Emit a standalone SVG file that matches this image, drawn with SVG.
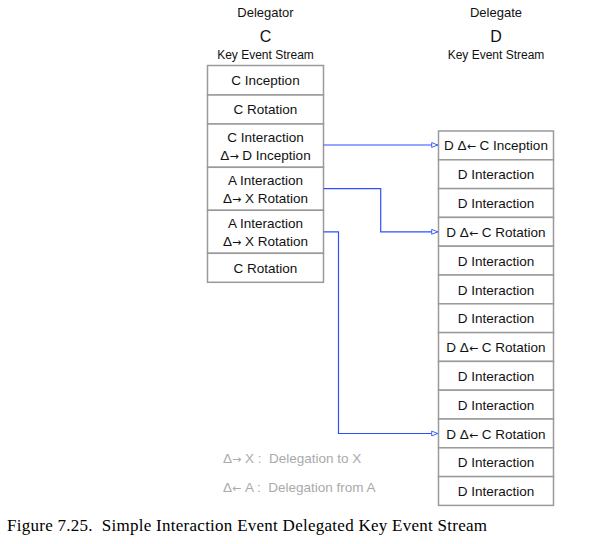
<svg xmlns="http://www.w3.org/2000/svg" width="604" height="544" viewBox="0 0 604 544">
<style>
.cell{fill:#fff;stroke:#9a9a9a;stroke-width:1.5}
.t{font-family:"Liberation Sans",Arial,sans-serif;font-size:13.5px;fill:#111;text-anchor:middle}
.h{font-family:"Liberation Sans",Arial,sans-serif;font-size:13px;fill:#111;text-anchor:middle}
.big{font-family:"Liberation Sans",Arial,sans-serif;font-size:16px;fill:#111;text-anchor:middle}
.ks{font-family:"Liberation Sans",Arial,sans-serif;font-size:12px;fill:#111;text-anchor:middle}
.leg{font-family:"Liberation Sans",Arial,sans-serif;font-size:13.5px;fill:#aaaaaa}
.ar{font-family:"DejaVu Sans",sans-serif;font-size:11px}
.cap{font-family:"Liberation Serif","Times New Roman",serif;font-size:17px;fill:#000}
.con{fill:none;stroke:#2f4fff;stroke-width:1.2}
</style>
<defs>
<marker id="ah" viewBox="0 0 10 10" refX="10" refY="5" markerWidth="8" markerHeight="7" markerUnits="userSpaceOnUse" orient="auto">
<path d="M1,1.5 L9.5,5 L1,8.5 Z" fill="#fff" stroke="#2f4fff" stroke-width="1.3"/>
</marker>
</defs>
<rect width="604" height="544" fill="#fff"/>
<g id="hdr-left">
<text class="h" x="265.5" y="17">Delegator</text>
<text class="big" x="265.5" y="41.5">C</text>
<text class="ks" x="265.5" y="59">Key Event Stream</text>
</g>
<g id="hdr-right">
<text class="h" x="496" y="17">Delegate</text>
<text class="big" x="496" y="41.5">D</text>
<text class="ks" x="496" y="59">Key Event Stream</text>
</g>
<g id="c1"><rect class="cell" x="207.5" y="65.5" width="116" height="29.5"/><text class="t" x="265.5" y="85">C Inception</text></g>
<g id="c2"><rect class="cell" x="207.5" y="95" width="116" height="29"/><text class="t" x="265.5" y="114">C Rotation</text></g>
<g id="c3"><rect class="cell" x="207.5" y="124" width="116" height="43.3"/><text class="t" x="265.5" y="141.5">C Interaction</text><text class="t" x="265.5" y="160">Δ<tspan class="ar">→</tspan> D Inception</text></g>
<g id="c4"><rect class="cell" x="207.5" y="167.3" width="116" height="43"/><text class="t" x="265.5" y="185">A Interaction</text><text class="t" x="265.5" y="202.5">Δ<tspan class="ar">→</tspan> X Rotation</text></g>
<g id="c5"><rect class="cell" x="207.5" y="210.3" width="116" height="43"/><text class="t" x="265.5" y="228">A Interaction</text><text class="t" x="265.5" y="245.5">Δ<tspan class="ar">→</tspan> X Rotation</text></g>
<g id="c6"><rect class="cell" x="207.5" y="253.3" width="116" height="29"/><text class="t" x="265.5" y="273">C Rotation</text></g>
<g id="d1"><rect class="cell" x="438.5" y="131" width="115" height="28.8"/><text class="t" x="496" y="150">D Δ<tspan class="ar">←</tspan> C Inception</text></g>
<g id="d2"><rect class="cell" x="438.5" y="159.8" width="115" height="28.8"/><text class="t" x="496" y="179">D Interaction</text></g>
<g id="d3"><rect class="cell" x="438.5" y="188.6" width="115" height="28.8"/><text class="t" x="496" y="208">D Interaction</text></g>
<g id="d4"><rect class="cell" x="438.5" y="217.4" width="115" height="28.8"/><text class="t" x="496" y="237">D Δ<tspan class="ar">←</tspan> C Rotation</text></g>
<g id="d5"><rect class="cell" x="438.5" y="246.2" width="115" height="28.8"/><text class="t" x="496" y="265.5">D Interaction</text></g>
<g id="d6"><rect class="cell" x="438.5" y="275" width="115" height="28.8"/><text class="t" x="496" y="294.5">D Interaction</text></g>
<g id="d7"><rect class="cell" x="438.5" y="303.8" width="115" height="28.8"/><text class="t" x="496" y="323">D Interaction</text></g>
<g id="d8"><rect class="cell" x="438.5" y="332.6" width="115" height="28.8"/><text class="t" x="496" y="352">D Δ<tspan class="ar">←</tspan> C Rotation</text></g>
<g id="d9"><rect class="cell" x="438.5" y="361.4" width="115" height="28.8"/><text class="t" x="496" y="381">D Interaction</text></g>
<g id="d10"><rect class="cell" x="438.5" y="390.2" width="115" height="28.8"/><text class="t" x="496" y="409.5">D Interaction</text></g>
<g id="d11"><rect class="cell" x="438.5" y="419" width="115" height="28.8"/><text class="t" x="496" y="438.5">D Δ<tspan class="ar">←</tspan> C Rotation</text></g>
<g id="d12"><rect class="cell" x="438.5" y="447.8" width="115" height="28.8"/><text class="t" x="496" y="467">D Interaction</text></g>
<g id="d13"><rect class="cell" x="438.5" y="476.6" width="115" height="28.8"/><text class="t" x="496" y="496">D Interaction</text></g>
<g id="connectors">
<path class="con" d="M323.5,145 H438" marker-end="url(#ah)"/>
<path class="con" d="M323.5,188.7 H380.7 V231.8 H438" marker-end="url(#ah)"/>
<path class="con" d="M323.5,231.8 H338.5 V433.5 H438" marker-end="url(#ah)"/>
</g>
<g id="legend">
<text class="leg" x="223" y="463" xml:space="preserve">Δ<tspan class="ar">→</tspan> X :  Delegation to X</text>
<text class="leg" x="223" y="492" xml:space="preserve">Δ<tspan class="ar">←</tspan> A :  Delegation from A</text>
</g>
<text class="cap" x="7" y="531" textLength="480" xml:space="preserve">Figure 7.25.  Simple Interaction Event Delegated Key Event Stream</text>
</svg>
